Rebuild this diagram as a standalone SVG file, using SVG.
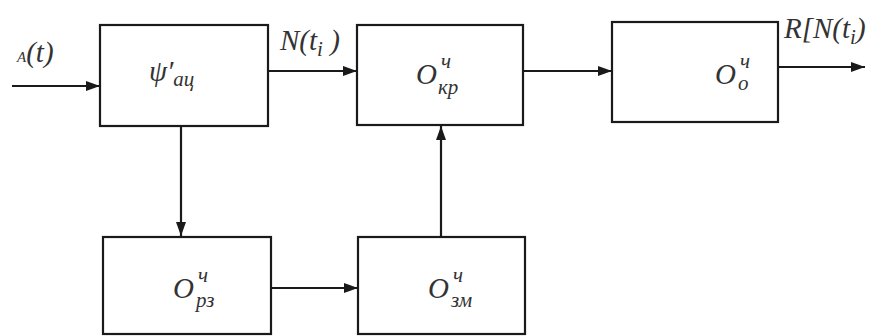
<svg xmlns="http://www.w3.org/2000/svg" width="895" height="336" viewBox="0 0 895 336">
<defs>
<marker id="ah" viewBox="0 0 14 10" refX="14" refY="5" markerWidth="14" markerHeight="10" markerUnits="userSpaceOnUse" orient="auto">
<path d="M0,0 L14,5 L0,10 Z" fill="#1a1a1a"/>
</marker>
<style>
.box{fill:#fff;stroke:#1a1a1a;stroke-width:2.2}
.ln{fill:none;stroke:#1a1a1a;stroke-width:2.2;marker-end:url(#ah)}
.t{font-family:'Liberation Serif','DejaVu Serif',serif;font-style:italic;fill:#333;font-size:29px}
.s{font-size:21px}
</style>
</defs>
<rect width="895" height="336" fill="#fff"/>
<g id="connectors">
<line class="ln" x1="12" y1="86" x2="100" y2="86"/>
<line class="ln" x1="268" y1="71" x2="357" y2="71"/>
<line class="ln" x1="523" y1="71" x2="612" y2="71"/>
<line class="ln" x1="778" y1="67" x2="865" y2="67"/>
<line class="ln" x1="181" y1="126" x2="181" y2="236"/>
<line class="ln" x1="271" y1="288" x2="358" y2="288"/>
<line class="ln" x1="441" y1="237" x2="441" y2="126"/>
<text class="t" x="17" y="62" font-family="Liberation Serif, serif" font-size="24"><tspan font-size="15">A</tspan>(<tspan>t</tspan>)</text>
<text class="t" x="280" y="50" font-family="Liberation Serif, serif">N(t<tspan class="s" dy="6">i</tspan><tspan dy="-6"> )</tspan></text>
<text class="t" x="784" y="38" font-family="Liberation Serif, serif">R[N(t<tspan class="s" dy="6">i</tspan><tspan dy="-6">)</tspan></text>
</g>
<g id="n1">
<rect class="box" x="100" y="25" width="168" height="101"/>
<text class="t" x="149" y="81" font-family="Liberation Serif, serif">ψ′<tspan class="s" dy="5">ац</tspan></text>
</g>
<g id="n2">
<rect class="box" x="357" y="25" width="166" height="100"/>
<text class="t" x="416" y="84" font-family="Liberation Serif, serif">O</text>
<text class="t s" x="441" y="68" font-family="Liberation Serif, serif">ч</text>
<text class="t s" x="438" y="94" font-family="Liberation Serif, serif">кр</text>
</g>
<g id="n3">
<rect class="box" x="612" y="22" width="166" height="100"/>
<text class="t" x="715" y="84" font-family="Liberation Serif, serif">O</text>
<text class="t s" x="740" y="68" font-family="Liberation Serif, serif">ч</text>
<text class="t s" x="738" y="90" font-family="Liberation Serif, serif">о</text>
</g>
<g id="n4">
<rect class="box" x="103" y="237" width="168" height="97"/>
<text class="t" x="173" y="298" font-family="Liberation Serif, serif">O</text>
<text class="t s" x="198" y="282" font-family="Liberation Serif, serif">ч</text>
<text class="t s" x="196" y="307" font-family="Liberation Serif, serif">рз</text>
</g>
<g id="n5">
<rect class="box" x="358" y="237" width="167" height="97"/>
<text class="t" x="428" y="298" font-family="Liberation Serif, serif">O</text>
<text class="t s" x="453" y="282" font-family="Liberation Serif, serif">ч</text>
<text class="t s" x="451" y="307" font-family="Liberation Serif, serif">зм</text>
</g>
</svg>
